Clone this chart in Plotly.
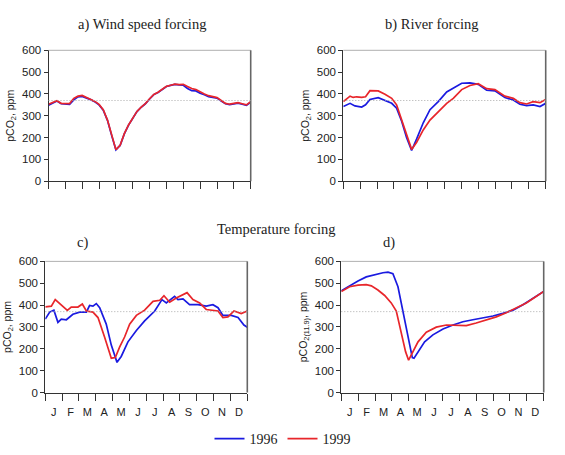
import plotly.graph_objects as go

# ---------------- data (months from 1 Jan, 0..12) ----------------
month_labels = ["J", "F", "M", "A", "M", "J", "J", "A", "S", "O", "N", "D"]
ref_level = 370

# a) Wind speed forcing
wind_x = [0, 0.25, 0.5, 0.75, 1.0, 1.25, 1.5, 1.75, 2.0, 2.25, 2.5, 2.75, 3.0, 3.25, 3.5, 3.75,
          4.0, 4.25, 4.5, 4.75, 5.0, 5.25, 5.5, 5.75, 6.0, 6.25, 6.5, 6.75, 7.0, 7.25, 7.5, 7.75,
          8.0, 8.25, 8.5, 8.75, 9.0, 9.25, 9.5, 9.75, 10.0, 10.25, 10.5, 10.75, 11.0, 11.25, 11.5, 11.75, 12.0]
wind_1999 = [353, 362, 369, 357, 355, 356, 380, 390, 393, 384, 376, 366, 352, 328, 280, 210,
             145, 165, 218, 258, 292, 320, 340, 356, 378, 398, 408, 420, 435, 440, 445, 443,
             444, 434, 425, 420, 408, 400, 392, 386, 383, 370, 357, 353, 355, 360, 355, 350, 365]
wind_1996 = [348, 360, 368, 355, 353, 352, 373, 387, 389, 382, 374, 364, 350, 326, 279, 209,
             144, 164, 217, 257, 291, 319, 339, 355, 377, 397, 407, 419, 434, 439, 444, 442,
             440, 425, 415, 414, 403, 396, 388, 384, 381, 368, 355, 351, 353, 358, 353, 348, 362]

# b) River forcing
river_x_1999 = [0, 0.4, 0.59, 0.79, 1.09, 1.32, 1.58, 2.07, 2.47, 2.87, 3.16, 3.46, 3.75, 4.05,
                4.35, 4.74, 5.14, 5.63, 6.13, 6.52, 7.02, 7.51, 8.0, 8.5, 8.99, 9.58, 10.08,
                10.47, 10.87, 11.26, 11.66, 12.0]
river_1999 = [365, 390, 384, 387, 384, 387, 415, 414, 399, 380, 350, 283, 208, 146,
              179, 235, 280, 320, 357, 380, 420, 439, 447, 424, 420, 390, 380,
              360, 354, 365, 360, 375]
river_x_1996 = [0, 0.4, 0.69, 1.09, 1.32, 1.58, 2.07, 2.47, 2.87, 3.16, 3.46, 3.75, 4.05,
                4.35, 4.74, 5.14, 5.63, 6.13, 6.52, 7.02, 7.51, 8.0, 8.5, 8.99, 9.58, 10.08,
                10.47, 10.87, 11.26, 11.66, 12.0]
river_1996 = [342, 357, 345, 340, 350, 375, 383, 369, 357, 335, 275, 201, 141,
              194, 268, 328, 365, 409, 427, 449, 451, 444, 417, 414, 384, 372,
              353, 347, 350, 342, 357]

# c) Temperature forcing
temp_x_1999 = [0, 0.36, 0.59, 0.95, 1.31, 1.54, 1.94, 2.2, 2.44, 2.83, 3.13, 3.52, 3.92, 4.16,
               4.42, 4.71, 5.01, 5.41, 5.9, 6.4, 6.8, 7.05, 7.39, 7.78, 8.42, 8.77, 9.17,
               9.56, 10.26, 10.55, 10.85, 11.21, 11.64, 12.0]
temp_1999 = [392, 395, 425, 402, 376, 391, 391, 405, 373, 368, 343, 254, 157, 160,
             209, 254, 313, 353, 377, 417, 422, 443, 413, 432, 457, 425, 410,
             380, 373, 343, 346, 373, 361, 373]
temp_x_1996 = [0, 0.26, 0.51, 0.75, 0.95, 1.25, 1.64, 2.04, 2.44, 2.63, 2.83, 3.03, 3.23, 3.62,
               3.92, 4.26, 4.51, 4.91, 5.41, 5.9, 6.5, 6.93, 7.19, 7.68, 7.88, 8.18, 8.57,
               9.07, 9.56, 9.96, 10.26, 10.55, 11.05, 11.45, 11.8, 12.0]
temp_1996 = [336, 368, 377, 321, 336, 333, 358, 368, 368, 398, 395, 407, 388, 313,
             217, 138, 165, 232, 284, 328, 373, 425, 410, 440, 425, 428, 402,
             402, 395, 402, 388, 353, 353, 343, 309, 299]

# d) pCO2 normalised to 11.9 C
norm_x_1999 = [0, 0.49, 0.99, 1.48, 1.78, 2.17, 2.57, 2.96, 3.26, 3.56, 3.81, 3.99, 4.25, 4.55,
               5.04, 5.63, 6.23, 6.82, 7.41, 8.0, 8.6, 9.19, 9.78, 10.38, 10.97, 11.46, 12.0]
norm_1999 = [462, 484, 491, 494, 488, 469, 444, 410, 373, 276, 187, 148, 187, 232,
             276, 299, 309, 309, 306, 318, 331, 346, 365, 387, 410, 435, 462]
norm_x_1996 = [0, 0.49, 0.99, 1.48, 1.98, 2.47, 2.77, 3.06, 3.36, 3.66, 3.95, 4.21, 4.31, 4.55,
               4.94, 5.43, 6.03, 6.62, 7.21, 7.8, 8.4, 8.99, 9.58, 10.18, 10.77, 11.36, 12.0]
norm_1996 = [465, 489, 510, 529, 539, 548, 551, 544, 484, 365, 247, 160, 157, 184,
             232, 264, 291, 309, 324, 333, 340, 350, 362, 377, 402, 432, 462]

# ---------------- styling ----------------
W, H = 565, 455
BLUE = "#1a1ae0"
RED = "#e8262b"
SERIF = "Liberation Serif"
SANS = "Liberation Sans"

def dom_x(a, b):
    return [a / W, b / W]

def dom_y(top, bottom):
    return [1 - bottom / H, 1 - top / H]

panels = [
    ("x", "y", (48.5, 250.7), (45.5, 180.0), False, "pCO<sub>2</sub>, ppm"),
    ("x2", "y2", (343.3, 545.7), (45.5, 180.0), False, "pCO<sub>2</sub>, ppm"),
    ("x3", "y3", (45.3, 247.3), (262.3, 397.0), True, "pCO<sub>2</sub>, ppm"),
    ("x4", "y4", (341.3, 543.7), (262.3, 397.0), True, "pCO<sub>2(11.9)</sub>, ppm"),
]

series = [
    (0, wind_x, wind_1996, wind_x, wind_1999),
    (1, river_x_1996, river_1996, river_x_1999, river_1999),
    (2, temp_x_1996, temp_1996, temp_x_1999, temp_1999),
    (3, norm_x_1996, norm_1996, norm_x_1999, norm_1999),
]

fig = go.Figure()
for idx, x96, y96, x99, y99 in series:
    xa, ya = panels[idx][0], panels[idx][1]
    fig.add_trace(go.Scatter(x=x96, y=y96, mode="lines", name="1996",
                             line=dict(color=BLUE, width=1.7),
                             xaxis=xa, yaxis=ya, showlegend=(idx == 0), legendrank=1))
    fig.add_trace(go.Scatter(x=x99, y=y99, mode="lines", name="1999",
                             line=dict(color=RED, width=1.7),
                             xaxis=xa, yaxis=ya, showlegend=(idx == 0), legendrank=2))

layout = dict(
    width=W, height=H,
    margin=dict(l=0, r=0, t=0, b=0),
    paper_bgcolor="white", plot_bgcolor="white",
    showlegend=True,
    legend=dict(orientation="h", x=0.5, xanchor="center", y=(H - 445) / H, yanchor="middle",
                font=dict(family=SERIF, size=14, color="#222"),
                itemwidth=30, traceorder="normal", bgcolor="rgba(0,0,0,0)"),
    font=dict(family=SANS, size=10, color="#222"),
)

shapes = []
for (xa, ya, (x0, x1), (y0, y1), months, ylab) in panels:
    xkey = "xaxis" + xa[1:]
    ykey = "yaxis" + ya[1:]
    xdict = dict(domain=dom_x(x0, x1), range=[0, 12], anchor=ya,
                 showgrid=False, zeroline=False, showline=True,
                 linecolor="#333", linewidth=1, fixedrange=True)
    if months:
        xdict.update(tickmode="array", tickvals=[i + 0.5 for i in range(12)],
                     ticktext=month_labels, ticks="", ticklen=0, ticklabelstandoff=9,
                     tickfont=dict(family=SANS, size=11, color="#222"),
                     minor=dict(tickmode="linear", tick0=0, dtick=1, ticks="outside",
                                ticklen=7, tickcolor="#333", tickwidth=1, showgrid=False))
    else:
        xdict.update(tickmode="linear", tick0=0, dtick=1, ticks="outside", ticklen=7,
                     tickcolor="#333", showticklabels=False)
    layout[xkey] = xdict
    layout[ykey] = dict(domain=dom_y(y0, y1), range=[0, 600], anchor=xa,
                        tickmode="linear", tick0=0, dtick=100, ticks="outside", ticklen=4,
                        tickcolor="#333", showgrid=False, zeroline=False, showline=True,
                        linecolor="#333", linewidth=1, fixedrange=True,
                        tickfont=dict(family=SANS, size=11.5, color="#222"),
                        title=dict(text=ylab, font=dict(family=SANS, size=10.5, color="#222"),
                                   standoff=5))
    xref_d = xa + " domain"
    yref_d = ya + " domain"
    shapes.append(dict(type="line", xref=xref_d, yref=yref_d, x0=0, x1=1, y0=1, y1=1,
                       line=dict(color="#b0b0b0", width=1)))
    shapes.append(dict(type="line", xref=xref_d, yref=yref_d, x0=1, x1=1, y0=0, y1=1,
                       line=dict(color="#666", width=1.6)))
    shapes.append(dict(type="line", xref=xref_d, yref=ya, x0=0, x1=1, y0=ref_level, y1=ref_level,
                       line=dict(color="#aaaaaa", width=1, dash="1px,2px")))

layout["shapes"] = shapes

title_font = dict(family=SERIF, size=14.5, color="#222")
annotations = [
    dict(text="a) Wind speed forcing", x=142 / W, y=1 - 19 / H),
    dict(text="b) River forcing", x=431 / W, y=1 - 19 / H),
    dict(text="Temperature forcing", x=276 / W, y=1 - 229 / H),
    dict(text="c)", x=82 / W, y=1 - 243 / H),
    dict(text="d)", x=389 / W, y=1 - 243 / H),
]
for a in annotations:
    a.update(xref="paper", yref="paper", xanchor="center", yanchor="middle",
             showarrow=False, font=title_font)
layout["annotations"] = annotations

fig.update_layout(**layout)
fig.write_html("out.html")
